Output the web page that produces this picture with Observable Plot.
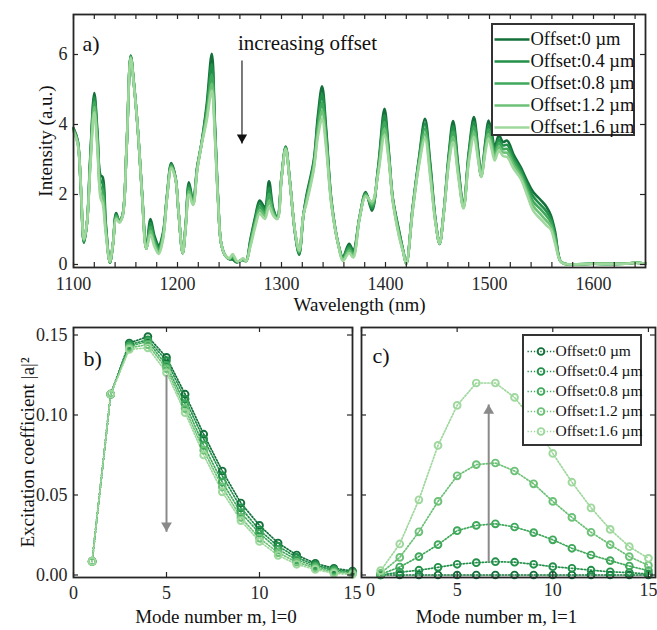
<!DOCTYPE html>
<html><head><meta charset="utf-8">
<script src="https://cdn.jsdelivr.net/npm/d3@7"></script>
<script src="https://cdn.jsdelivr.net/npm/@observablehq/plot@0.6"></script>
<style>
body{margin:0;background:#fff;}
#root{position:relative;width:657px;height:630px;font-family:"Liberation Serif",serif;}
#root > div{position:absolute;}
.legbox{border:2px solid #333;background:#fff;line-height:0;}
</style></head><body><div id="root"></div>
<script>
// ---------- data ----------
const offsets = ["Offset:0 µm","Offset:0.4 µm","Offset:0.8 µm","Offset:1.2 µm","Offset:1.6 µm"];
const colors = ["#13703a","#23904a","#3fa85a","#6cc177","#9ed89c"];

const wavelength = [
 1100,1104,1107,1110,1113,1116,1120,1123,1126,1128,
 1131,1135,1138,1141,1144,1147,1151,1155,1158,1162,
 1166,1170,1174,1178,1182,1186,1190,1194,1198,1201,
 1205,1208,1211,1215,1219,1223,1228,1233,1236,1239,
 1242,1246,1250,1253,1257,1260,1263,1266,1270,1275,
 1279,1284,1288,1292,1296,1300,1304,1308,1313,1317,
 1321,1324,1331,1335,1339,1343,1348,1355,1359,1365,
 1369,1375,1381,1387,1393,1399,1403,1407,1413,1417,
 1420,1426,1432,1438,1443,1448,1452,1456,1461,1465,
 1470,1475,1480,1485,1489,1492,1496,1499,1502,1505,
 1509,1513,1517,1523,1530,1536,1542,1549,1555,1559,
 1563,1568,1572,1600,1630,1640,1650];

const intensity0 = [
 3.90,3.55,2.20,0.62,1.20,3.00,4.90,3.80,2.55,2.50,
 1.20,0.05,0.60,1.47,1.25,1.40,3.30,5.97,5.20,3.80,
 2.00,0.45,1.30,0.80,0.55,0.90,2.00,2.90,2.50,1.50,
 0.32,1.20,2.35,1.80,2.80,3.45,4.55,6.02,4.00,1.90,
 0.60,0.25,0.15,0.14,0.06,0.10,0.13,0.10,0.70,1.40,
 1.83,1.64,2.38,1.60,1.35,2.50,3.37,2.40,0.90,0.28,
 1.40,1.97,2.97,4.25,5.09,3.85,1.83,0.54,0.21,0.59,
 0.40,1.35,2.07,1.54,2.80,4.45,3.30,1.90,0.97,0.40,
 0.02,1.60,3.00,4.16,2.90,1.30,0.59,1.50,3.20,4.10,
 2.80,1.66,3.20,4.21,3.30,2.54,3.50,4.11,3.80,3.35,
 3.69,3.50,3.54,3.15,2.78,2.40,2.07,1.85,1.64,1.40,
 0.95,0.11,0.02,0.02,0.02,0.05,0.03];
const intensity04 = [
 3.88,3.53,2.22,0.64,1.20,2.93,4.78,3.68,2.40,2.32,
 1.12,0.06,0.60,1.43,1.24,1.39,3.30,5.95,5.19,3.80,
 1.99,0.45,1.19,0.72,0.49,0.85,1.98,2.86,2.49,1.50,
 0.32,1.18,2.26,1.78,2.78,3.44,4.43,5.72,3.90,1.88,
 0.60,0.25,0.16,0.18,0.07,0.10,0.14,0.10,0.65,1.33,
 1.74,1.56,2.20,1.55,1.34,2.49,3.35,2.39,0.91,0.31,
 1.40,1.91,2.90,4.10,4.86,3.72,1.80,0.53,0.18,0.53,
 0.35,1.34,2.04,1.60,2.75,4.26,3.22,1.88,0.93,0.39,
 0.02,1.58,2.95,4.02,2.80,1.28,0.59,1.49,3.12,3.95,
 2.72,1.65,3.12,4.07,3.22,2.53,3.42,3.98,3.68,3.25,
 3.58,3.40,3.42,3.05,2.70,2.30,1.94,1.71,1.51,1.30,
 0.86,0.11,0.02,0.02,0.02,0.05,0.03];
const intensity08 = [
 3.86,3.50,2.25,0.67,1.20,2.85,4.65,3.55,2.22,2.13,
 1.05,0.06,0.60,1.39,1.23,1.38,3.30,5.94,5.18,3.80,
 1.98,0.45,1.08,0.65,0.43,0.80,1.95,2.83,2.48,1.50,
 0.32,1.15,2.18,1.75,2.75,3.43,4.32,5.42,3.80,1.85,
 0.60,0.25,0.16,0.22,0.08,0.10,0.15,0.10,0.60,1.25,
 1.64,1.47,2.02,1.50,1.33,2.48,3.34,2.38,0.92,0.34,
 1.40,1.86,2.83,3.95,4.62,3.58,1.77,0.52,0.16,0.46,
 0.30,1.33,2.01,1.67,2.70,4.07,3.15,1.85,0.89,0.38,
 0.02,1.55,2.90,3.88,2.70,1.25,0.60,1.48,3.05,3.80,
 2.65,1.63,3.05,3.93,3.15,2.52,3.35,3.86,3.55,3.16,
 3.48,3.30,3.30,2.95,2.62,2.20,1.80,1.58,1.38,1.20,
 0.78,0.10,0.02,0.02,0.02,0.05,0.03];
const intensity12 = [
 3.83,3.48,2.27,0.70,1.20,2.78,4.50,3.42,2.05,1.95,
 0.97,0.07,0.60,1.34,1.21,1.36,3.30,5.92,5.16,3.80,
 1.96,0.45,0.96,0.57,0.36,0.75,1.93,2.79,2.46,1.50,
 0.32,1.12,2.09,1.72,2.72,3.41,4.20,5.16,3.70,1.82,
 0.60,0.25,0.17,0.26,0.09,0.10,0.17,0.10,0.55,1.18,
 1.55,1.39,1.83,1.45,1.31,2.46,3.32,2.36,0.94,0.37,
 1.40,1.80,2.77,3.80,4.39,3.44,1.73,0.51,0.13,0.40,
 0.25,1.31,1.98,1.73,2.65,3.88,3.07,1.82,0.84,0.36,
 0.02,1.52,2.85,3.73,2.60,1.22,0.60,1.46,2.98,3.65,
 2.58,1.62,2.98,3.78,3.07,2.51,3.28,3.73,3.42,3.06,
 3.37,3.20,3.19,2.85,2.53,2.10,1.67,1.44,1.24,1.10,
 0.69,0.10,0.02,0.02,0.02,0.05,0.03];
const intensity16 = [
 3.80,3.45,2.30,0.72,1.20,2.70,4.35,3.30,1.90,1.75,
 0.90,0.08,0.60,1.30,1.20,1.35,3.30,5.90,5.15,3.80,
 1.95,0.45,0.85,0.50,0.30,0.70,1.90,2.75,2.45,1.50,
 0.32,1.10,2.00,1.70,2.70,3.40,4.10,4.97,3.60,1.80,
 0.60,0.25,0.18,0.30,0.10,0.10,0.18,0.10,0.50,1.10,
 1.45,1.30,1.65,1.40,1.30,2.45,3.30,2.35,0.95,0.40,
 1.40,1.74,2.70,3.65,4.16,3.30,1.70,0.50,0.10,0.33,
 0.20,1.30,1.95,1.80,2.60,3.69,3.00,1.80,0.80,0.35,
 0.02,1.50,2.80,3.59,2.50,1.20,0.60,1.45,2.90,3.50,
 2.50,1.60,2.90,3.64,3.00,2.50,3.20,3.60,3.30,2.97,
 3.26,3.10,3.07,2.75,2.45,2.00,1.54,1.30,1.11,1.00,
 0.60,0.10,0.02,0.02,0.02,0.05,0.03];

const modeNumber = [1,2,3,4,5,6,7,8,9,10,11,12,13,14,15];
const exc0_l0  = [0.0085,0.113,0.145,0.149,0.136,0.113,0.088,0.065,0.045,0.031,0.020,0.0125,0.0073,0.0042,0.0025];
const exc04_l0 = [0.0085,0.113,0.144,0.147,0.134,0.110,0.085,0.062,0.042,0.028,0.018,0.0110,0.0063,0.0034,0.0019];
const exc08_l0 = [0.0085,0.113,0.143,0.146,0.131,0.107,0.081,0.058,0.039,0.026,0.016,0.0095,0.0054,0.0027,0.0013];
const exc12_l0 = [0.0085,0.113,0.142,0.144,0.129,0.104,0.078,0.055,0.036,0.023,0.014,0.0080,0.0044,0.0018,0.0008];
const exc16_l0 = [0.0085,0.113,0.141,0.142,0.1265,0.1015,0.075,0.052,0.034,0.021,0.0123,0.0067,0.0035,0.0010,0.0004];

const exc0_l1  = [0,0,0,0,0,0,0,0,0,0,0,0,0,0,0];
const exc04_l1 = [0.0000,0.0017,0.0030,0.0048,0.0067,0.0077,0.0083,0.0080,0.0067,0.0052,0.0042,0.0030,0.0020,0.0015,0.0006];
const exc08_l1 = [0.0004,0.0050,0.0115,0.0190,0.0277,0.0310,0.0320,0.0300,0.0265,0.0220,0.0167,0.0125,0.0090,0.0056,0.0027];
const exc12_l1 = [0.0010,0.0110,0.0270,0.0460,0.0620,0.0690,0.0700,0.0650,0.0570,0.0460,0.0360,0.0267,0.0190,0.0115,0.0060];
const exc16_l1 = [0.0027,0.0194,0.0470,0.0810,0.1060,0.1200,0.1200,0.1110,0.0960,0.0760,0.0580,0.0420,0.0285,0.0177,0.0104];

const xTicksA = [1100,1200,1300,1400,1500,1600];
const xMinorA = [1100,1120,1140,1160,1180,1200,1220,1240,1260,1280,1300,1320,1340,1360,1380,1400,1420,1440,1460,1480,1500,1520,1540,1560,1580,1600,1620,1640];
const yTicksA = [0,2,4,6];
const xTicksM = [0,5,10,15];
const yTicksE = [0,0.05,0.10,0.15];

const arrowA = [{x:1262, y1:5.83, y2:3.46}];
const noteA = [{x:1325, y:6.31, text:"increasing offset"}];
const arrowB = [{x:5, y1:0.125, y2:0.027}];
const arrowC = [{x:6.65, y1:0.008, y2:0.1066}];

// ---------- drawing ----------
const root = document.getElementById("root");
const ink = "#262626";
const baseStyle = {fontFamily:'"Liberation Serif", serif', fontSize:"18px", background:"transparent", overflow:"visible", color:ink};
function place(node, left, top, cls){
  const d = document.createElement("div");
  d.style.left = left+"px"; d.style.top = top+"px";
  if (cls) d.className = cls;
  d.appendChild(node); root.appendChild(d);
}
function innerTicks(xt, yt, W, H){
  return [
    Plot.ruleX(xt, {insetTop: H-5, stroke: ink, strokeWidth: 1.2}),
    Plot.ruleX(xt, {insetBottom: H-5, stroke: ink, strokeWidth: 1.2}),
    Plot.ruleY(yt, {insetRight: W-5, stroke: ink, strokeWidth: 1.2}),
    Plot.ruleY(yt, {insetLeft: W-5, stroke: ink, strokeWidth: 1.2})
  ];
}
const dotDash = "1.3,1.9";

// Panel a
const seriesA = [intensity0,intensity04,intensity08,intensity12,intensity16];
const plotA = Plot.plot({
  width: 657, height: 322, marginLeft: 73, marginRight: 12, marginTop: 14, marginBottom: 55,
  style: baseStyle,
  x: {domain:[1100,1650], ticks: xTicksA, tickSize: 0, tickPadding: 10, label: null, tickFormat: d => String(d)},
  y: {domain:[-0.086,7.143], ticks: yTicksA, tickSize: 0, tickPadding: 6, label: null},
  marks: [
    ...seriesA.map((s,i) => Plot.line(wavelength, {x: d => d, y: (d,j) => s[j], stroke: colors[i], strokeWidth: 2.6, curve: "catmull-rom"})),
    ...innerTicks(xMinorA, yTicksA, 572, 253),
    Plot.frame({stroke: ink, strokeWidth: 1.8}),
    Plot.text(["a)"], {frameAnchor: "top-left", dx: 9, dy: 21, fontSize: 22, textAnchor: "start", fill: "#111"}),
    Plot.text(noteA, {x: "x", y: "y", text: "text", fontSize: 21, fill: "#111"}),
    Plot.link(arrowA, {x1: "x", x2: "x", y1: "y1", y2: "y2", stroke: "#222", strokeWidth: 1.2}),
    Plot.dot(arrowA, {x: "x", y: "y2", symbol: "triangle", rotate: 180, r: 3.8, fill: "#111", stroke: "none", dy: -5.9}),
    Plot.text(["Wavelength (nm)"], {frameAnchor: "bottom", dy: 43, fontSize: 19, textAnchor: "middle", fill: "#111"}),
    Plot.text(["Intensity (a.u.)"], {frameAnchor: "left", dx: -28, rotate: -90, fontSize: 19, textAnchor: "middle", fill: "#111"})
  ]
});
place(plotA, 0, 0);

// Panel b
const seriesB = [exc0_l0,exc04_l0,exc08_l0,exc12_l0,exc16_l0];
const yDomE = [-0.00156, 0.15469];
const plotB = Plot.plot({
  width: 360, height: 308, marginLeft: 73, marginRight: 8, marginTop: 5, marginBottom: 53,
  style: baseStyle,
  x: {domain:[0,15], ticks: xTicksM, tickSize: 0, tickPadding: 9, label: null},
  y: {domain: yDomE, ticks: yTicksE, tickSize: 0, tickPadding: 6, label: null, tickFormat: d3.format(".2f")},
  marks: [
    ...seriesB.map((s,i) => Plot.line(modeNumber, {x: d => d, y: (d,j) => s[j], stroke: colors[i], strokeWidth: 1.7, strokeDasharray: dotDash})),
    ...seriesB.map((s,i) => Plot.dot(modeNumber, {x: d => d, y: (d,j) => s[j], stroke: colors[i], r: 3.4, strokeWidth: 1.9, fill: "none"})),
    ...innerTicks(xTicksM, yTicksE, 279, 250),
    Plot.frame({stroke: ink, strokeWidth: 1.8}),
    Plot.text(["b)"], {frameAnchor: "top-left", dx: 10, dy: 23, fontSize: 22, textAnchor: "start", fill: "#111"}),
    Plot.link(arrowB, {x1: "x", x2: "x", y1: "y1", y2: "y2", stroke: "#8a8a8a", strokeWidth: 2}),
    Plot.dot(arrowB, {x: "x", y: "y2", symbol: "triangle", rotate: 180, r: 4, fill: "#8a8a8a", stroke: "none", dy: -6.2}),
    Plot.text(["Mode number m, l=0"], {frameAnchor: "bottom", dy: 45, dx: 3, fontSize: 19, textAnchor: "middle", fill: "#111"}),
    Plot.text(["Excitation coefficient |a|²"], {frameAnchor: "left", dx: -46, rotate: -90, fontSize: 19, textAnchor: "middle", fill: "#111"})
  ]
});
place(plotB, 0, 322);

// Panel c
const seriesC = [exc0_l1,exc04_l1,exc08_l1,exc12_l1,exc16_l1];
const plotC = Plot.plot({
  width: 317, height: 308, marginLeft: 21, marginRight: 2, marginTop: 5, marginBottom: 53,
  style: baseStyle,
  x: {domain:[0,15.37], axis: null},
  y: {domain: yDomE, axis: null},
  marks: [
    ...seriesC.map((s,i) => Plot.line(modeNumber, {x: d => d, y: (d,j) => s[j], stroke: colors[i], strokeWidth: 1.7, strokeDasharray: dotDash})),
    ...seriesC.map((s,i) => Plot.dot(modeNumber, {x: d => d, y: (d,j) => s[j], stroke: colors[i], r: 3.4, strokeWidth: 1.9, fill: "none"})),
    ...innerTicks(xTicksM, yTicksE, 294, 250),
    Plot.frame({stroke: ink, strokeWidth: 1.8}),
    Plot.text(xTicksM.slice(0,1), {x: d => d, frameAnchor: "bottom", dy: 18, dx: 9, fill: ink}),
    Plot.text(xTicksM.slice(1), {x: d => d, frameAnchor: "bottom", dy: 18, fill: ink}),
    Plot.text(["c)"], {frameAnchor: "top-left", dx: 11, dy: 20, fontSize: 22, textAnchor: "start", fill: "#111"}),
    Plot.link(arrowC, {x1: "x", x2: "x", y1: "y1", y2: "y2", stroke: "#8a8a8a", strokeWidth: 2}),
    Plot.dot(arrowC, {x: "x", y: "y2", symbol: "triangle", r: 4, fill: "#8a8a8a", stroke: "none", dy: 6.2}),
    Plot.text(["Mode number m, l=1"], {frameAnchor: "bottom", dy: 45, dx: -12, fontSize: 19, textAnchor: "middle", fill: "#111"})
  ]
});
place(plotC, 340, 322);

// Legends
function legend(w, h, mt, mb, x1, x2, xt, fs, dotted){
  return Plot.plot({
    width: w, height: h, marginLeft: 0, marginRight: 0, marginTop: mt, marginBottom: mb,
    style: {...baseStyle, fontSize: fs+"px", background: "white"},
    x: {domain:[0,w], axis: null},
    y: {type: "point", domain: offsets, padding: 0, axis: null},
    marks: [
      ...offsets.map((o,i) => Plot.link([o], {x1: () => x1, x2: () => x2, y1: d => d, y2: d => d, stroke: colors[i], strokeWidth: dotted ? 1.7 : 2.4, strokeDasharray: dotted ? dotDash : null})),
      ...(dotted ? offsets.map((o,i) => Plot.dot([o], {x: () => (x1+x2)/2, y: d => d, stroke: colors[i], r: 3.4, strokeWidth: 1.9, fill: "none"})) : []),
      Plot.text(offsets, {x: () => xt, y: d => d, text: d => d, textAnchor: "start", fill: "#111"})
    ]
  });
}
place(legend(140, 109, 14, 7, 1, 36, 37, 18.5, false), 491, 23, "legbox");
place(legend(116, 108, 14, 12, 3, 30, 31, 15.5, true), 522, 334, "legbox");
</script></body></html>
